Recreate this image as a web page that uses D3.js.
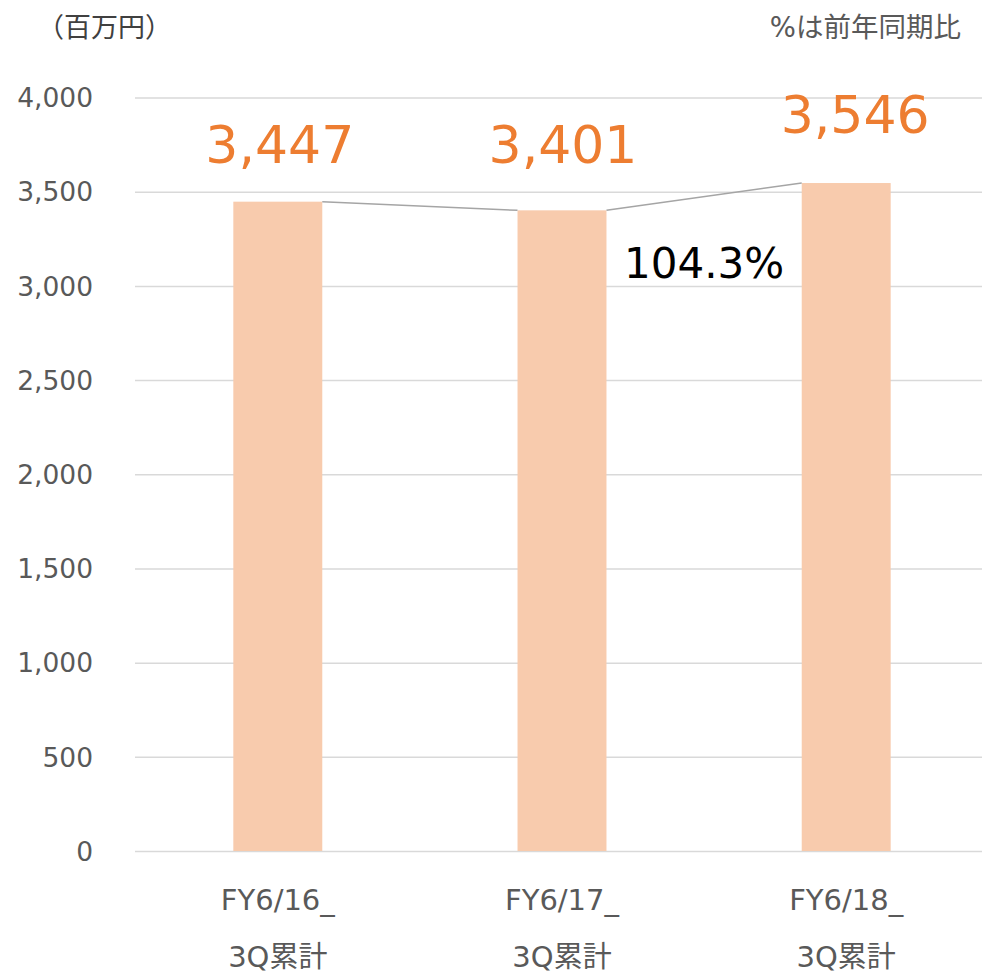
<!DOCTYPE html>
<html><head><meta charset="utf-8">
<script src="https://cdn.jsdelivr.net/npm/d3@7"></script>
<style>body{margin:0;background:#fff}svg{display:block}text{font-family:"DejaVu Sans","Noto Sans CJK JP",sans-serif}</style>
</head><body><div id="chart"></div>
<script>
const categories = ["FY6/16_\n3Q累計", "FY6/17_\n3Q累計", "FY6/18_\n3Q累計"];
const values = [3447, 3401, 3546];
const yTicks = [0, 500, 1000, 1500, 2000, 2500, 3000, 3500, 4000];
const growthLabel = "104.3%";
const unitLabel = "（百万円）";
const noteLabel = "%は前年同期比";

const W = 982, H = 971;
const svg = d3.select("#chart").append("svg").attr("width", W).attr("height", H);

const x = d3.scaleBand().domain(categories).range([135.7, 988.3]).paddingInner(0.687).paddingOuter(0.3435);
const y = d3.scaleLinear().domain([0, 4000]).range([851, 97.5]);

// gridlines
svg.append("g").selectAll("line").data(yTicks).join("line")
  .attr("x1", 135).attr("x2", 982)
  .attr("y1", d => y(d) + 0.5).attr("y2", d => y(d) + 0.5)
  .attr("stroke", "#D9D9D9").attr("stroke-width", 1.5);

// y axis labels
const yAxis = d3.axisLeft(y).tickValues(yTicks).tickFormat(d3.format(",")).tickSize(0).tickPadding(0);
const ya = svg.append("g").attr("transform", "translate(93,0)").call(yAxis);
ya.select(".domain").remove();
ya.selectAll("text").attr("font-size", 26.5).attr("fill", "#595959").attr("dy", "0.35em")
  .style("font-family", '"DejaVu Sans",sans-serif');

// bars
svg.append("g").selectAll("rect").data(values).join("rect")
  .attr("x", (d, i) => x(categories[i])).attr("width", x.bandwidth())
  .attr("y", d => y(d)).attr("height", d => y(0) - y(d))
  .attr("fill", "#F8CBAD");

// connectors
const conn = d3.range(values.length - 1).map(i => [
  [x(categories[i]) + x.bandwidth(), y(values[i])],
  [x(categories[i + 1]), y(values[i + 1])]
]);
svg.append("g").selectAll("line").data(conn).join("line")
  .attr("x1", d => d[0][0]).attr("y1", d => d[0][1])
  .attr("x2", d => d[1][0]).attr("y2", d => d[1][1])
  .attr("stroke", "#A5A5A5").attr("stroke-width", 1.5);

// value labels
const labelY = [163, 163, 133];
const labelDx = [2, 1, 9];
svg.append("g").selectAll("text").data(values).join("text")
  .attr("x", (d, i) => x(categories[i]) + x.bandwidth() / 2 + labelDx[i])
  .attr("y", (d, i) => labelY[i])
  .attr("text-anchor", "middle").attr("font-size", 52).attr("fill", "#ED7D31")
  .text(d => d3.format(",")(d));

// growth label
svg.append("text").attr("x", (x(categories[1]) + x(categories[2]) + x.bandwidth()) / 2 - 0)
  .attr("y", 278).attr("text-anchor", "middle").attr("font-size", 42).attr("fill", "#000")
  .text(growthLabel);

// category labels
const cg = svg.append("g").selectAll("text").data(categories).join("text")
  .attr("text-anchor", "middle").attr("font-size", 29).attr("fill", "#595959");
cg.each(function(d, i) {
  const cx = x(d) + x.bandwidth() / 2;
  const parts = d.split("\n");
  d3.select(this).selectAll("tspan").data(parts).join("tspan")
    .attr("x", cx).attr("y", (p, j) => 910 + j * 57).text(p => p);
});

// unit and note
svg.append("text").attr("x", 37).attr("y", 37).attr("font-size", 27).attr("fill", "#404040").text(unitLabel);
svg.append("text").attr("x", 961).attr("y", 37).attr("text-anchor", "end").attr("font-size", 27.5).attr("fill", "#595959").text(noteLabel);
</script></body></html>
